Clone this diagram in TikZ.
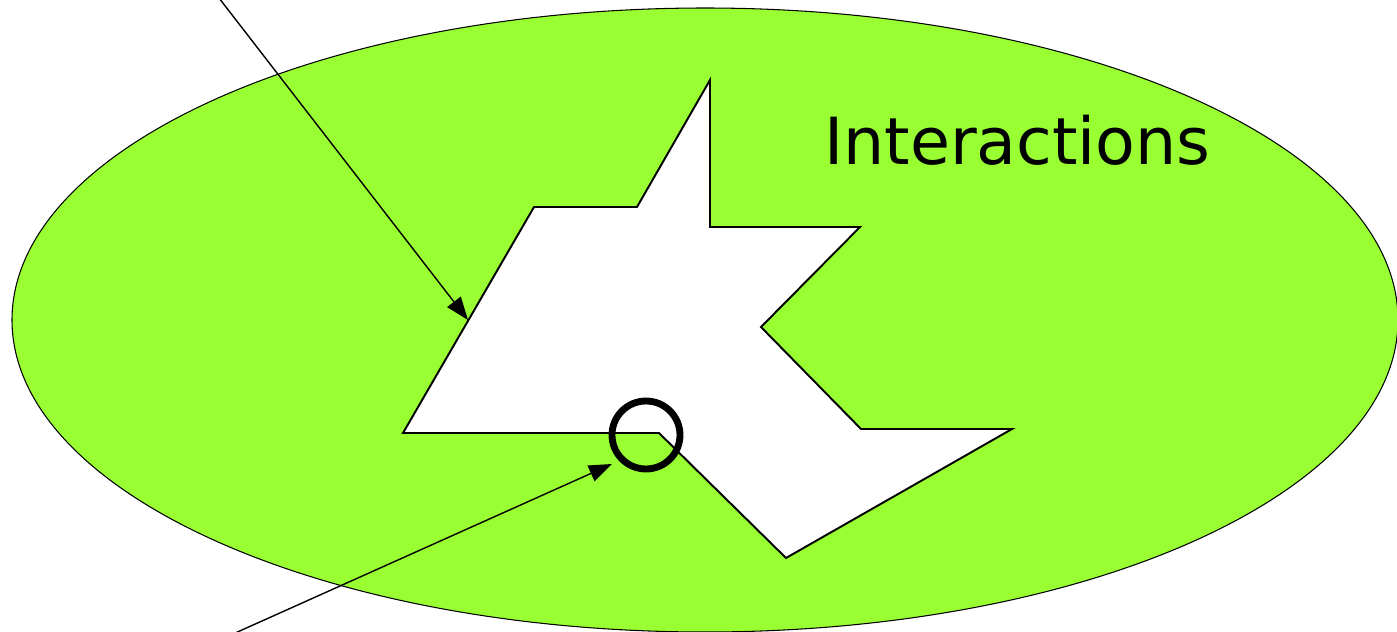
\documentclass[tikz,border=0pt]{standalone}
\usepackage{fontspec}
\setmainfont{DejaVu Sans}
\usetikzlibrary{arrows.meta}
\definecolor{fieldgreen}{HTML}{99FF33}
\tikzset{
  field/.style={draw, fill=fieldgreen, line width=0.6pt},
  region/.style={draw, fill=white, line width=1.1pt, line join=miter},
  pointer/.style={-{Triangle[length=4.6mm, width=3.4mm]}, line width=0.8pt},
  joint/.style={circle, draw, line width=3.9pt, minimum size=1.36cm, inner sep=0pt},
}

\begin{document}
\begin{tikzpicture}[x=0.02cm, y=-0.02cm]
    \useasboundingbox (0,0) rectangle (1397,632);
    \draw[field] (705,320) ellipse [x radius=693, y radius=312];
    % region vertices
    \coordinate (v1) at (403,433);
    \coordinate (v2) at (534,207);
    \coordinate (v3) at (637,207);
    \coordinate (v4) at (710,80);
    \coordinate (v5) at (710,227);
    \coordinate (v6) at (860,227);
    \coordinate (v7) at (761,327);
    \coordinate (v8) at (861,429);
    \coordinate (v9) at (1012,429);
    \coordinate (v10) at (786,558);
    \coordinate (v11) at (659,433);
    \draw[region] (v1) -- (v2) -- (v3) -- (v4) -- (v5) -- (v6) -- (v7)
      -- (v8) -- (v9) -- (v10) -- (v11) -- cycle;
    \node[joint] (j) at (646,435) {};
    \node[font=\fontsize{37}{44}\selectfont, anchor=base west] (lbl) at (818,164) {Interactions};
    % pointers
    \coordinate (p1) at (219,-2);
    \coordinate (t1) at (468,320);
    \coordinate (p2) at (233,634);
    \coordinate (t2) at (612,464);
    \draw[pointer] (p1) -- (t1);
    \draw[pointer] (p2) -- (t2);
  \end{tikzpicture}
\end{document}
